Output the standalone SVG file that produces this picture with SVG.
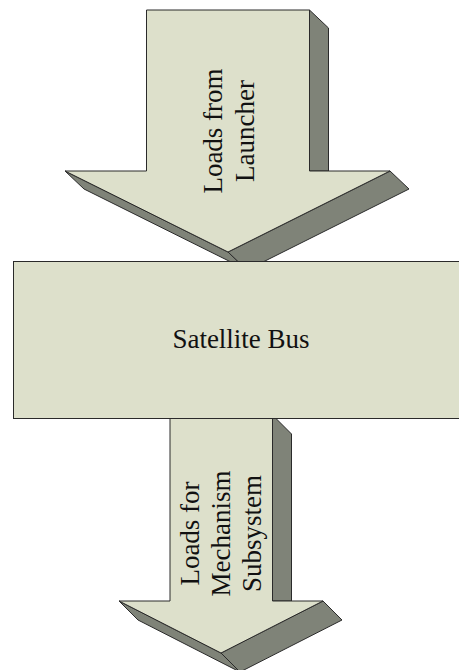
<svg xmlns="http://www.w3.org/2000/svg" width="459" height="670" viewBox="0 0 459 670">
  <style>
    .front { fill: #dde0cb; stroke: #2a2a2a; stroke-width: 1; stroke-linejoin: miter; }
    .side { fill: #7f8378; stroke: #2a2a2a; stroke-width: 1; stroke-linejoin: miter; }
    .label { font-size: 27px; fill: #111; text-anchor: middle; }
  </style>
  <rect width="459" height="670" fill="#ffffff"/>

  <!-- Incoming loads: 3D block arrow pointing down into the bus -->
  <g id="arrow-launcher">
    <polygon class="side" points="309.5,10 328.5,28 328.5,171 309.5,171"/>
    <polygon class="side" points="65,171 84,189 247,270 228,252"/>
    <polygon class="side" points="390,171 409,189 247,270 228,252"/>
    <polygon class="front" points="146.5,10 309.5,10 309.5,171 390,171 228,252 65,171 146.5,171"/>
    <g font-family="Liberation Serif, DejaVu Serif, serif">
      <text class="label" transform="translate(222,131) rotate(-90)">Loads from</text>
      <text class="label" transform="translate(254,131) rotate(-90)">Launcher</text>
    </g>
  </g>

  <!-- Outgoing loads: 3D block arrow leaving the bus -->
  <g id="arrow-mechanism">
    <polygon class="side" points="272.5,415 291.5,434 291.5,601 272.5,601"/>
    <polygon class="side" points="119,601 138,620 240,672 221,653"/>
    <polygon class="side" points="323,601 342,620 240,672 221,653"/>
    <polygon class="front" points="170,415 272.5,415 272.5,601 323,601 221,653 119,601 170,601"/>
    <g font-family="Liberation Serif, DejaVu Serif, serif">
      <text class="label" transform="translate(199,533.5) rotate(-90)">Loads for</text>
      <text class="label" transform="translate(230,533.5) rotate(-90)">Mechanism</text>
      <text class="label" transform="translate(261,533.5) rotate(-90)">Subsystem</text>
    </g>
  </g>

  <!-- Central block -->
  <g id="satellite-bus">
    <rect class="front" x="13.5" y="261.5" width="460" height="157"/>
    <text class="label" x="241" y="348" font-size="26.5" font-family="Liberation Serif, DejaVu Serif, serif">Satellite Bus</text>
  </g>
</svg>
